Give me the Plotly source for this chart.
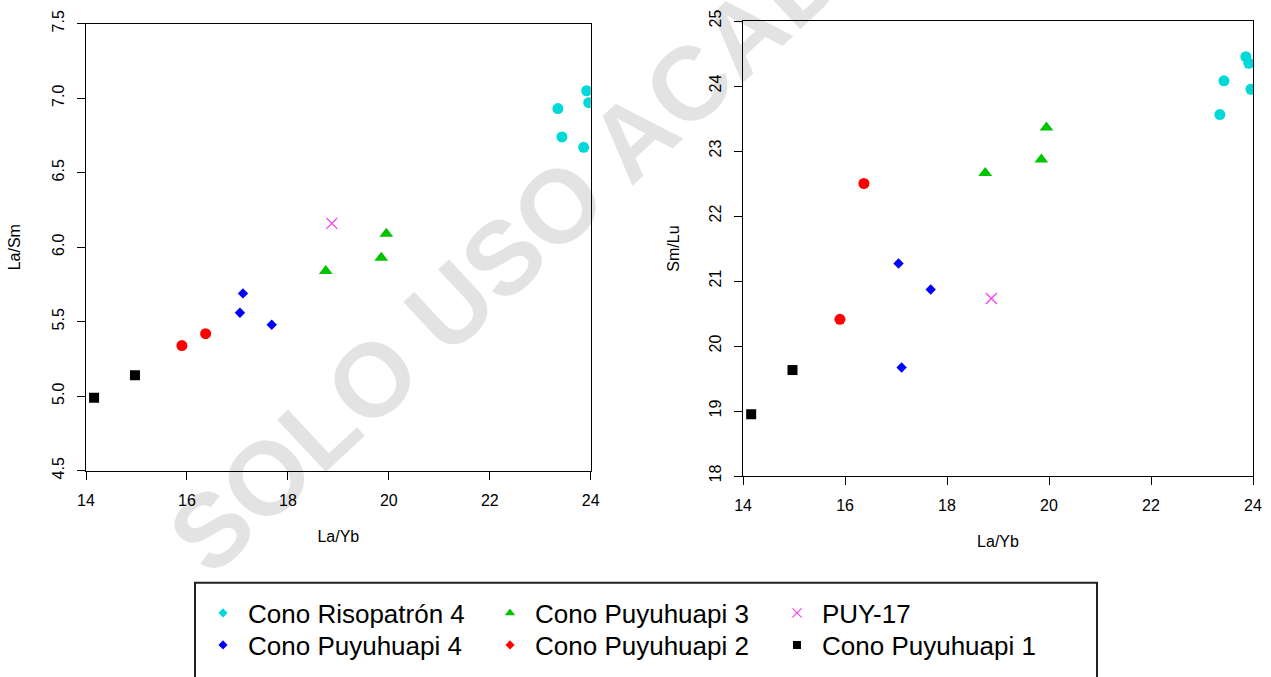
import plotly.graph_objects as go

# La/Yb, La/Sm and Sm/Lu ratios for each volcanic cone
ris4_la_yb = [23.35, 23.43, 23.86, 23.92, 23.96]
ris4_la_sm = [6.93, 6.74, 6.67, 7.05, 6.97]
ris4_sm_lu = [23.56, 24.08, 24.45, 24.35, 23.95]

puy4_la_yb = [17.05, 17.11, 17.68]
puy4_la_sm = [5.56, 5.69, 5.48]
puy4_sm_lu = [21.27, 19.67, 20.87]

puy3_la_yb = [18.75, 19.85, 19.95]
puy3_la_sm = [5.84, 5.93, 6.09]
puy3_sm_lu = [22.66, 22.87, 23.36]

puy2_la_yb = [15.90, 16.37]
puy2_la_sm = [5.34, 5.42]
puy2_sm_lu = [20.41, 22.50]

puy17_la_yb = [18.87]
puy17_la_sm = [6.16]
puy17_sm_lu = [20.73]

puy1_la_yb = [14.16, 14.97]
puy1_la_sm = [4.99, 5.14]
puy1_sm_lu = [18.95, 19.63]

x_ticks = [14, 16, 18, 20, 22, 24]
la_sm_ticks = [4.5, 5.0, 5.5, 6.0, 6.5, 7.0, 7.5]
sm_lu_ticks = [18, 19, 20, 21, 22, 23, 24, 25]

FONT = "Liberation Sans, Arial, sans-serif"

# name, x, left y, right y, plot symbol, plot size, legend symbol, legend size, colour, legend row
groups = [
    ("Cono Risopatrón 4", ris4_la_yb, ris4_la_sm, ris4_sm_lu, "circle", 11, "diamond", 7, "#00D8DA", "legend"),
    ("Cono Puyuhuapi 3", puy3_la_yb, puy3_la_sm, puy3_sm_lu, "triangle-up", 12, "triangle-up", 9, "#00C400", "legend"),
    ("PUY-17", puy17_la_yb, puy17_la_sm, puy17_sm_lu, "x-thin", 11, "x-thin", 9, "#F040F0", "legend"),
    ("Cono Puyuhuapi 4", puy4_la_yb, puy4_la_sm, puy4_sm_lu, "diamond", 8, "diamond", 7, "#0000FF", "legend2"),
    ("Cono Puyuhuapi 2", puy2_la_yb, puy2_la_sm, puy2_sm_lu, "circle", 11, "diamond", 7, "#FF0000", "legend2"),
    ("Cono Puyuhuapi 1", puy1_la_yb, puy1_la_sm, puy1_sm_lu, "square", 10, "square", 8, "#000000", "legend2"),
]

fig = go.Figure()

for name, xs, y_left, y_right, sym, size, lsym, lsize, color, leg in groups:
    marker = dict(symbol=sym, size=size, color=color, line=dict(width=1.3 if sym == "x-thin" else 0, color=color))
    fig.add_trace(go.Scatter(x=xs, y=y_left, mode="markers", marker=marker, name=name,
                             showlegend=False, xaxis="x", yaxis="y"))
    fig.add_trace(go.Scatter(x=xs, y=y_right, mode="markers", marker=marker, name=name,
                             showlegend=False, xaxis="x2", yaxis="y2"))
    # legend key
    fig.add_trace(go.Scatter(x=[None], y=[None], mode="markers", name=name, legend=leg,
                             marker=dict(symbol=lsym, size=lsize, color=color,
                                         line=dict(width=1.2 if lsym == "x-thin" else 0, color=color)),
                             xaxis="x", yaxis="y"))

axis_common = dict(
    showline=True, linecolor="#000", linewidth=1, mirror=True,
    ticks="outside", ticklen=8, tickcolor="#000", tickwidth=1,
    showgrid=False, zeroline=False, ticklabelstandoff=7,
    tickfont=dict(family=FONT, size=16, color="#000"),
)
title_font = dict(family=FONT, size=16, color="#000")

legend_common = dict(
    orientation="h", xref="container", yref="container",
    xanchor="left", yanchor="middle", entrywidth=232, entrywidthmode="pixels", itemwidth=40,
    font=dict(family=FONT, size=26, color="#000"), bgcolor="rgba(0,0,0,0)", borderwidth=0,
    itemclick=False, itemdoubleclick=False,
)

fig.update_layout(
    width=1271, height=677,
    margin=dict(l=86, r=18, t=21, b=201, autoexpand=False),
    paper_bgcolor="white", plot_bgcolor="white",
    font=dict(family=FONT, color="#000"),
    xaxis=dict(axis_common, domain=[0, 0.4325], range=[14, 24], tickvals=x_ticks,
               title=dict(text="La/Yb", font=title_font, standoff=22), anchor="y"),
    yaxis=dict(axis_common, domain=[0.0116, 0.9941], range=[4.5, 7.5], tickvals=la_sm_ticks,
               tickformat=".1f", tickangle=-90,
               title=dict(text="La/Sm", font=title_font, standoff=24), anchor="x"),
    xaxis2=dict(axis_common, domain=[0.563, 1], range=[14, 24], tickvals=x_ticks,
                title=dict(text="La/Yb", font=title_font, standoff=22), anchor="y2"),
    yaxis2=dict(axis_common, domain=[0, 1], range=[18, 25], tickvals=sm_lu_ticks, tickangle=-90,
                title=dict(text="Sm/Lu", font=title_font, standoff=23), anchor="x2"),
    legend=dict(legend_common, x=198 / 1271, y=1 - 613 / 677),
    legend2=dict(legend_common, x=198 / 1271, y=1 - 645 / 677),
    showlegend=True,
)

# frame around the legend
fig.add_shape(type="rect", xref="paper", yref="paper",
              x0=(195 - 86) / 1167, x1=(1097 - 86) / 1167,
              y0=(476 - 583) / 456, y1=(476 - 700) / 456,
              line=dict(color="#222", width=2), fillcolor="rgba(0,0,0,0)")

# diagonal watermark
fig.add_annotation(text="SOLO USO ACADÉMICO", xref="paper", yref="paper",
                   x=(630 - 86) / 1167, y=(476 - 138) / 456, showarrow=False,
                   textangle=-43, xanchor="center", yanchor="middle",
                   font=dict(family=FONT, size=104, weight="bold", color="rgba(0,0,0,0.11)"))

fig.write_html("out.html")
